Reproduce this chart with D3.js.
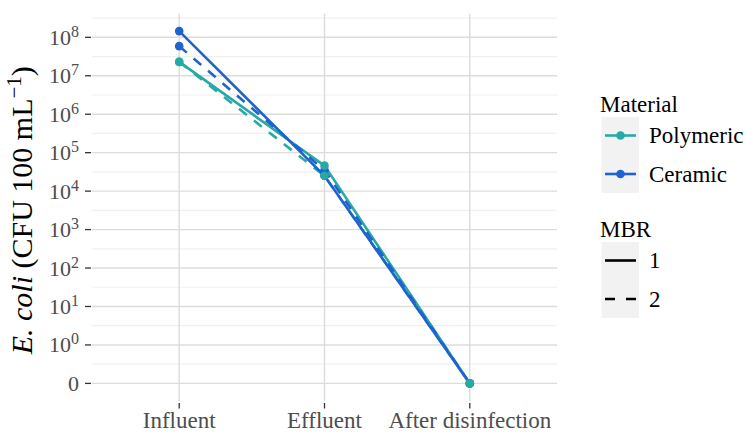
<!DOCTYPE html>
<html><head><meta charset="utf-8">
<script src="https://cdn.jsdelivr.net/npm/d3@7"></script>
<style>body{margin:0;background:#fff}</style>
</head><body>
<script>
// ---- data ----
const stages = ["Influent", "Effluent", "After disinfection"];
const materials = ["Polymeric", "Ceramic"];
const mbrs = ["1", "2"];
// E. coli (CFU 100 mL-1) per stage
const polymeric1 = [2.3e7, 4.6e4, 0];
const polymeric2 = [2.3e7, 2.5e4, 0];
const ceramic1 = [1.45e8, 2.5e4, 0];
const ceramic2 = [5.9e7, 3.5e4, 0];
const yTickLabels = ["0", "10^0", "10^1", "10^2", "10^3", "10^4", "10^5", "10^6", "10^7", "10^8"];
const yTickValues = [0, 1, 10, 100, 1e3, 1e4, 1e5, 1e6, 1e7, 1e8];

const series = [
  {material: "Polymeric", mbr: "1", values: polymeric1},
  {material: "Polymeric", mbr: "2", values: polymeric2},
  {material: "Ceramic", mbr: "1", values: ceramic1},
  {material: "Ceramic", mbr: "2", values: ceramic2}
];

const W = 746, H = 432;
const panel = {left: 92, right: 557, top: 13.5, bottom: 401};
const colors = {Polymeric: "#27aaa5", Ceramic: "#1e63cf"};
const dash = {"1": null, "2": "10,9"};
const font = "'Liberation Serif', 'Times New Roman', serif";

// transform: 0 -> -1, else log10
const tr = v => v === 0 ? -1 : Math.log10(v);

const svg = d3.select("body").append("svg").attr("width", W).attr("height", H)
  .style("font-family", font);

const x = d3.scalePoint().domain(stages).range([panel.left, panel.right]).padding(0.6);
const allPos = series.flatMap(s => s.values.map(tr));
const lo = d3.min(allPos), hi = d3.max(allPos);
const ex = (hi - lo) * 0.05;
const y = d3.scaleLinear().domain([lo - ex, hi + ex]).range([panel.bottom, panel.top]);

// grid
const g = svg.append("g");
const minor = d3.range(-0.5, 8.6, 1);
g.selectAll("line.minor").data(minor).join("line")
  .attr("x1", panel.left).attr("x2", panel.right)
  .attr("y1", d => y(d)).attr("y2", d => y(d))
  .attr("stroke", "#f0f0f0").attr("stroke-width", 1.2);
g.selectAll("line.major").data(yTickValues).join("line")
  .attr("x1", panel.left).attr("x2", panel.right)
  .attr("y1", d => y(tr(d))).attr("y2", d => y(tr(d)))
  .attr("stroke", "#dcdcdc").attr("stroke-width", 1.4);
g.selectAll("line.vx").data(stages).join("line")
  .attr("x1", d => x(d)).attr("x2", d => x(d))
  .attr("y1", panel.top).attr("y2", panel.bottom)
  .attr("stroke", "#dcdcdc").attr("stroke-width", 1.4);

// y axis ticks + labels
const ya = svg.append("g");
yTickValues.forEach((v, i) => {
  const yy = y(tr(v));
  ya.append("line").attr("x1", 85).attr("x2", 91).attr("y1", yy).attr("y2", yy)
    .attr("stroke", "#333").attr("stroke-width", 1.3);
  const lab = yTickLabels[i];
  const t = ya.append("text").attr("x", 79).attr("y", yy + 7.5)
    .attr("text-anchor", "end").attr("fill", "#4d4d4d").style("font-size", "22px");
  if (lab.includes("^")) {
    const [b, e] = lab.split("^");
    t.append("tspan").text(b);
    t.append("tspan").text(e).attr("dy", -8).style("font-size", "16px");
  } else {
    t.text(lab);
  }
});

// x axis ticks + labels
const xa = svg.append("g");
stages.forEach(s => {
  xa.append("line").attr("x1", x(s)).attr("x2", x(s)).attr("y1", 403).attr("y2", 408.5)
    .attr("stroke", "#333").attr("stroke-width", 1.3);
  xa.append("text").attr("x", x(s)).attr("y", 428).attr("text-anchor", "middle")
    .attr("fill", "#4d4d4d").style("font-size", "23px").text(s);
});

// y title
const yt = svg.append("text").attr("transform", `translate(32,${(panel.top + panel.bottom) / 2 + 3}) rotate(-90)`)
  .attr("text-anchor", "middle").attr("fill", "#000").style("font-size", "30px");
yt.append("tspan").style("font-style", "italic").text("E. coli");
yt.append("tspan").text(" (CFU 100 mL");
yt.append("tspan").text("\u22121").attr("dy", -11).style("font-size", "21px");
yt.append("tspan").text(")").attr("dy", 11);

// lines
const line = d3.line().x((d, i) => x(stages[i])).y(d => y(tr(d)));
svg.append("g").selectAll("path").data(series).join("path")
  .attr("d", d => line(d.values))
  .attr("fill", "none")
  .attr("stroke", d => colors[d.material])
  .attr("stroke-width", 2.6)
  .attr("stroke-dasharray", d => dash[d.mbr]);

// points (ceramic first, polymeric on top)
const pts = series.slice().reverse().flatMap(s => s.values.map((v, i) => ({s, v, i})));
svg.append("g").selectAll("circle").data(pts).join("circle")
  .attr("cx", d => x(stages[d.i])).attr("cy", d => y(tr(d.v))).attr("r", 4.3)
  .attr("fill", d => colors[d.s.material]);

// legends
const lg = svg.append("g").style("font-size", "23px");
lg.append("text").attr("x", 600).attr("y", 112).text("Material");
lg.append("rect").attr("x", 601.5).attr("y", 117).attr("width", 37.5).attr("height", 76).attr("fill", "#f2f2f2");
materials.forEach((m, i) => {
  const cy = 135.5 + i * 38.5;
  lg.append("line").attr("x1", 605).attr("x2", 636).attr("y1", cy).attr("y2", cy)
    .attr("stroke", colors[m]).attr("stroke-width", 2.6);
  lg.append("circle").attr("cx", 620.5).attr("cy", cy).attr("r", 4.3).attr("fill", colors[m]);
  lg.append("text").attr("x", 649).attr("y", cy + 7.5).text(m);
});
lg.append("text").attr("x", 600).attr("y", 237).text("MBR");
lg.append("rect").attr("x", 601.5).attr("y", 242).attr("width", 37.5).attr("height", 76).attr("fill", "#f2f2f2");
mbrs.forEach((m, i) => {
  const cy = 260.5 + i * 38.5;
  lg.append("line").attr("x1", 605).attr("x2", 636).attr("y1", cy).attr("y2", cy)
    .attr("stroke", "#000").attr("stroke-width", 2.6)
    .attr("stroke-dasharray", m === "2" ? "10,11" : null);
  lg.append("text").attr("x", 649).attr("y", cy + 7.5).text(m);
});
</script>
</body></html>
